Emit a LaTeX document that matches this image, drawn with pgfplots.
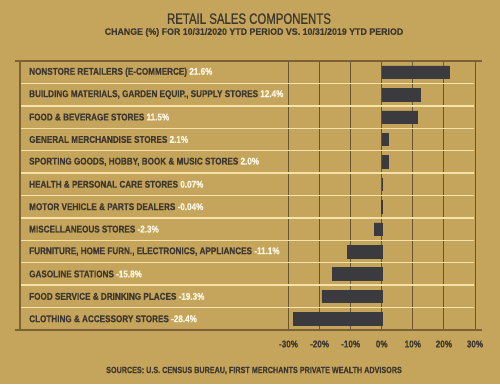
\documentclass[border=0pt]{standalone}
\usepackage{fontspec}
\setmainfont{Liberation Sans}
\newfontfamily\labfont{Liberation Sans}[FakeStretch=0.83,FakeBold=0.5]
\newfontfamily\titlefont{Liberation Sans}[FakeStretch=0.76,FakeBold=0.9]
\newfontfamily\subfont{Liberation Sans}[FakeStretch=0.95,FakeBold=0.4]
\newfontfamily\srcfont{Liberation Sans}[FakeStretch=0.8,FakeBold=0.4]
\usepackage{pgfplots}
\pgfplotsset{compat=1.18}
\definecolor{bg}{HTML}{C5A55B}
\definecolor{barc}{HTML}{3B3A3F}
\definecolor{gridc}{HTML}{6A5532}
\definecolor{framec}{HTML}{7A6236}
\definecolor{sepc}{HTML}{F4E2A8}
\definecolor{txt}{HTML}{3F3830}
\definecolor{valc}{HTML}{FFF8E6}
\newcommand{\lab}{\labfont\bfseries\fontsize{9.8}{11}\selectfont}
\begin{document}
\begin{tikzpicture}[x=1pt,y=1pt]
\useasboundingbox (0,0) rectangle (500,384);
\fill[bg] (0,0) rectangle (500,384);
\node[text=txt, font=\titlefont\fontsize{15}{18}\selectfont] at (249,365.3) {RETAIL SALES COMPONENTS};
\node[text=txt, font=\subfont\bfseries\fontsize{9.3}{11}\selectfont] at (254,351.6) {CHANGE (\%) FOR 10/31/2020 YTD PERIOD VS. 10/31/2019 YTD PERIOD};
\node[text=txt, font=\srcfont\bfseries\fontsize{9}{11}\selectfont] at (254,13.4) {SOURCES: U.S. CENSUS BUREAU, FIRST MERCHANTS PRIVATE WEALTH ADVISORS};
\begin{axis}[
  at={(20pt,54pt)}, anchor=south west,
  scale only axis, width=455pt, height=269pt,
  xmin=-116.4, xmax=30, ymin=-0.5, ymax=11.5, y dir=reverse,
  clip=false,
  axis line style={draw=none},
  tick style={draw=none}, major tick length=0pt,
  xtick={-30,-20,-10,0,10,20,30},
  xticklabels={-30\%,-20\%,-10\%,0\%,10\%,20\%,30\%},
  xticklabel style={font=\lab, text=txt, anchor=center, yshift=-14pt},
  ytick=\empty,
  xmajorgrids, grid style={gridc, line width=1pt},
]
\pgfplotsinvokeforeach{0.5,1.5,2.5,3.5,4.5,5.5,6.5,7.5,8.5,9.5,10.5}{
  \draw[sepc, line width=1.4pt] (axis cs:-116.4,#1) -- (axis cs:29.6,#1);
}
\draw[framec, line width=1.2pt] (axis cs:-116.4,-0.5) -- (axis cs:-116.4,11.5);
\draw[framec, line width=1.2pt] ([xshift=-5pt]axis cs:-116.4,-0.5) -- ([xshift=7pt]axis cs:30,-0.5);
\draw[framec, line width=1.2pt] ([xshift=-5pt]axis cs:-116.4,11.5) -- ([xshift=7pt]axis cs:30,11.5);
\addplot[xbar, bar width=12.5pt, fill=barc, draw=barc, line width=0.5pt] coordinates {
  (21.6,0) (12.4,1) (11.5,2) (2.1,3) (2.0,4) (0.07,5) (-0.04,6) (-2.3,7)
  (-11.1,8) (-15.8,9) (-19.3,10) (-28.4,11)
};
\node[anchor=west, inner sep=0pt, font=\lab, text=txt] at (axis cs:-113.5,0) {NONSTORE RETAILERS (E-COMMERCE) \textcolor{valc}{21.6\%}};
\node[anchor=west, inner sep=0pt, font=\lab, text=txt] at (axis cs:-113.5,1) {BUILDING MATERIALS, GARDEN EQUIP., SUPPLY STORES \textcolor{valc}{12.4\%}};
\node[anchor=west, inner sep=0pt, font=\lab, text=txt] at (axis cs:-113.5,2) {FOOD \& BEVERAGE STORES \textcolor{valc}{11.5\%}};
\node[anchor=west, inner sep=0pt, font=\lab, text=txt] at (axis cs:-113.5,3) {GENERAL MERCHANDISE STORES \textcolor{valc}{2.1\%}};
\node[anchor=west, inner sep=0pt, font=\lab, text=txt] at (axis cs:-113.5,4) {SPORTING GOODS, HOBBY, BOOK \& MUSIC STORES \textcolor{valc}{2.0\%}};
\node[anchor=west, inner sep=0pt, font=\lab, text=txt] at (axis cs:-113.5,5) {HEALTH \& PERSONAL CARE STORES \textcolor{valc}{0.07\%}};
\node[anchor=west, inner sep=0pt, font=\lab, text=txt] at (axis cs:-113.5,6) {MOTOR VEHICLE \& PARTS DEALERS \textcolor{valc}{-0.04\%}};
\node[anchor=west, inner sep=0pt, font=\lab, text=txt] at (axis cs:-113.5,7) {MISCELLANEOUS STORES \textcolor{valc}{-2.3\%}};
\node[anchor=west, inner sep=0pt, font=\lab, text=txt] at (axis cs:-113.5,8) {FURNITURE, HOME FURN., ELECTRONICS, APPLIANCES \textcolor{valc}{-11.1\%}};
\node[anchor=west, inner sep=0pt, font=\lab, text=txt] at (axis cs:-113.5,9) {GASOLINE STATIONS \textcolor{valc}{-15.8\%}};
\node[anchor=west, inner sep=0pt, font=\lab, text=txt] at (axis cs:-113.5,10) {FOOD SERVICE \& DRINKING PLACES \textcolor{valc}{-19.3\%}};
\node[anchor=west, inner sep=0pt, font=\lab, text=txt] at (axis cs:-113.5,11) {CLOTHING \& ACCESSORY STORES \textcolor{valc}{-28.4\%}};
\end{axis}
\end{tikzpicture}
\end{document}
